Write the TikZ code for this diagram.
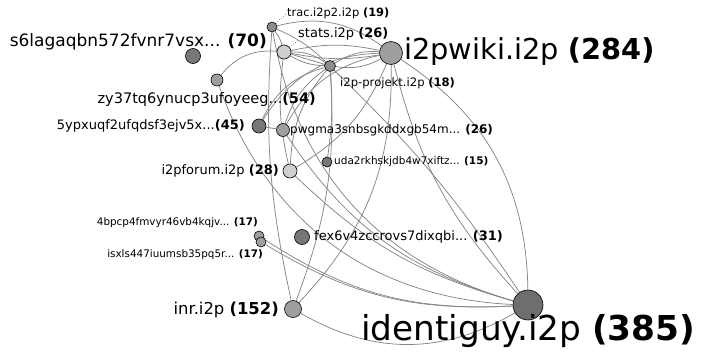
\documentclass[tikz,border=0pt]{standalone}
\usepackage{fontspec}
\setmainfont{DejaVu Sans}
\usetikzlibrary{positioning, backgrounds}

\definecolor{edgegray}{HTML}{858585}
\definecolor{dotgray}{HTML}{9E9E9E}
\definecolor{lightdot}{HTML}{CFCFCF}
\definecolor{middot}{HTML}{8C8C8C}
\definecolor{darkdot}{HTML}{777777}
\definecolor{hubdot}{HTML}{6E6E6E}

\newcommand{\fs}[1]{\fontsize{#1}{#1}\selectfont}

\begin{document}
\begin{tikzpicture}[x=1pt, y=-1pt,
    site/.style={circle, draw=black, line width=0.6pt, inner sep=0pt, fill=dotgray},
    lbl/.style={inner sep=0pt, text=black},
    link/.style={draw=edgegray, line width=0.75pt},
    leader/.style={draw=black, dotted, line width=0.5pt}]
    \useasboundingbox (0,0) rectangle (714,356);

    % sites
    \node[site, fill=middot, minimum size=10pt] (T) at (272,27) {};
    \node[site, fill=lightdot, minimum size=14pt] (S) at (284,52) {};
    \node[site, minimum size=23pt] (W) at (391,53) {};
    \node[site, fill=middot, minimum size=11pt] (P) at (330,66) {};
    \node[site, fill=darkdot, minimum size=15pt] (L) at (193,56) {};
    \node[site, minimum size=12pt] (Z) at (217,80) {};
    \node[site, fill=darkdot, minimum size=14pt] (Y) at (259,126) {};
    \node[site, minimum size=13pt] (G) at (283,130) {};
    \node[site, fill=darkdot, minimum size=10pt] (U) at (327,162) {};
    \node[site, fill=lightdot, minimum size=14pt] (F) at (290,171) {};
    \node[site, minimum size=10pt] (A) at (259,236) {};
    \node[site, minimum size=10pt] (B) at (261,242) {};
    \node[site, fill=darkdot, minimum size=15pt] (X) at (302,237) {};
    \node[site, minimum size=17pt] (I) at (293,309) {};
    \node[site, fill=hubdot, minimum size=30pt] (D) at (528,305) {};

    % links
    \begin{scope}[on background layer]
    \path[link] (T) edge[bend left=25] (W)
          (T) edge[bend left=10] (S)
          (T) edge[bend left=10] (P)
          (T) edge[bend right=8] (I)
          (T) edge[bend right=32] (D)
          (S) edge[bend left=12] (W)
          (S) edge[bend right=10] (W)
          (S) edge[bend left=18] (P)
          (S) edge[bend right=14] (P)
          (S) edge (P)
          (Z) edge[bend left=28] (S)
          (Z) edge[bend right=34] (D)
          (P) edge[bend left=18] (W)
          (P) edge[bend right=18] (W)
          (P) edge[bend left=6] (D)
          (Y) edge[bend left=28] (W)
          (Y) edge[bend left=24] (P)
          (Y) edge (G)
          (G) edge[bend left=24] (W)
          (G) edge[bend left=18] (P)
          (G) edge[bend right=20] (D)
          (F) edge[bend right=18] (W)
          (F) edge[bend left=18] (P)
          (F) edge[bend left=10] (S)
          (F) edge[bend right=14] (D)
          (U) edge[bend right=6] (P)
          (W) edge[bend left=28] (D)
          (W) edge[bend right=14] (D)
          (I) edge[bend right=22] (W)
          (I) edge[bend right=12] (P)
          (I) edge[bend right=30] (D)
          (A) edge[bend right=18] (D)
          (B) edge[bend right=17] (D);
    \end{scope}

    % labels
    \node[lbl, anchor=west] (Tl) at (287,13) {\fs{11.4}trac.i2p2.i2p \bfseries(19)};
    \node[lbl, anchor=west] (Sl) at (298,34) {\fs{13}stats.i2p \bfseries(26)};
    \node[lbl, anchor=west] (Wl) at (404,52) {\fs{28.8}i2pwiki.i2p \bfseries(284)};
    \node[lbl, anchor=west] (Pl) at (340,83) {\fs{11.6}i2p-projekt.i2p \bfseries(18)};
    \node[lbl, anchor=east] (Ll) at (267,42) {\fs{17}s6lagaqbn572fvnr7vsx... \bfseries(70)};
    \node[lbl, anchor=east] (Zl) at (316,99) {\fs{14.5}zy37tq6ynucp3ufoyeeg...\bfseries(54)};
    \node[lbl, anchor=east] (Yl) at (245,126) {\fs{13}5ypxuqf2ufqdsf3ejv5x...\bfseries(45)};
    \node[lbl, anchor=west] (Gl) at (290,130) {\fs{12}pwgma3snbsgkddxgb54m... \bfseries(26)};
    \node[lbl, anchor=west] (Ul) at (334,162) {\fs{10.5}uda2rkhskjdb4w7xiftz... \bfseries(15)};
    \node[lbl, anchor=east] (Fl) at (279,171) {\fs{13}i2pforum.i2p \bfseries(28)};
    \node[lbl, anchor=east] (Al) at (258,223) {\fs{10.4}4bpcp4fmvyr46vb4kqjv... \bfseries(17)};
    \node[lbl, anchor=east] (Bl) at (263,255) {\fs{10.4}isxls447iuumsb35pq5r... \bfseries(17)};
    \node[lbl, anchor=west] (Xl) at (314,237) {\fs{13}fex6v4zccrovs7dixqbi... \bfseries(31)};
    \node[lbl, anchor=east] (Il) at (279,310) {\fs{16.4}inr.i2p \bfseries(152)};
    \node[lbl, anchor=west] (Dl) at (361,331) {\fs{34.3}identiguy.i2p \bfseries(385)};

    % leaders
    \draw[leader] (T) -- (Tl.west);
    \draw[leader] (S) -- (Sl.south west);
    \draw[leader] (P) -- (Pl.north west);
\end{tikzpicture}
\end{document}
